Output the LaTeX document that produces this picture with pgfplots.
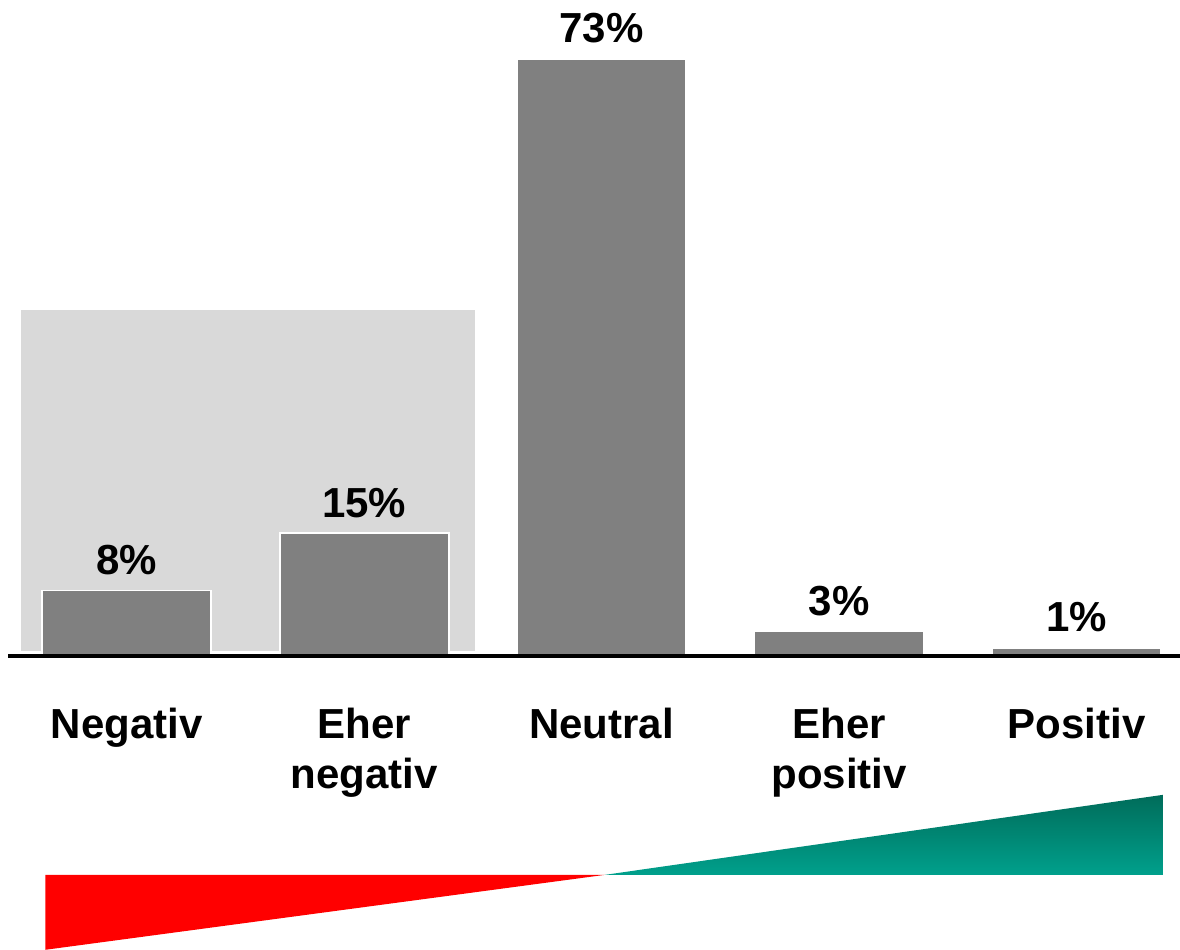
\documentclass[border=0pt]{standalone}
\usepackage{pgfplots}
\pgfplotsset{compat=1.18}
\usepackage{fontspec}
\setmainfont{Liberation Sans}
\definecolor{barg}{RGB}{128,128,128}
\definecolor{bgg}{RGB}{217,217,217}
\definecolor{gtop}{RGB}{0,108,90}
\definecolor{gbot}{RGB}{0,160,140}
\definecolor{myred}{RGB}{255,0,0}
\begin{document}
\begin{tikzpicture}
\begin{axis}[
  scale only axis,
  width=11.723cm, height=6.544cm,
  xmin=-0.5, xmax=4.436,
  ymin=0, ymax=80,
  clip=false,
  axis on top,
  axis x line=bottom,
  axis y line=none,
  axis line style={line width=1.1pt, black, -},
  x axis line style={-},
  xtick={0,1,2,3,4},
  xticklabels={Negativ, Eher\\negativ, Neutral, Eher\\positiv, Positiv},
  major tick length=0pt,
  xticklabel style={font=\fontsize{11.95}{14.3}\selectfont\bfseries, align=center, anchor=north, inner sep=0pt, yshift=-0.51cm},
  ytick=\empty,
  ybar,
  bar width=1.69cm,
  /pgf/number format/assume math mode=true,
  nodes near coords={\pgfmathprintnumber{\pgfplotspointmeta}\%},
  nodes near coords style={font=\fontsize{11.95}{14.3}\selectfont\bfseries, anchor=base, inner sep=0pt, yshift=0.16cm},
]
\fill[bgg] (axis cs:-0.444,0.6) rectangle (axis cs:1.467,42.3);
\addplot[fill=barg, draw=white, line width=0.5pt] coordinates {(0,8) (1,15) (2,73) (3,3) (4,1)};
\fill[myred] (axis cs:-0.343,-26.77) -- (axis cs:2.015,-26.77) -- (axis cs:-0.343,-35.94) -- cycle;
\path[top color=gtop, bottom color=gbot] (axis cs:2.015,-26.77) -- (axis cs:4.364,-16.99) -- (axis cs:4.364,-26.77) -- cycle;
\coordinate (bl) at (axis cs:-0.5337,-35.94);
\coordinate (tr) at (axis cs:4.436,80.2);
\end{axis}
\pgfresetboundingbox
\useasboundingbox (bl) rectangle (tr);
\end{tikzpicture}
\end{document}
